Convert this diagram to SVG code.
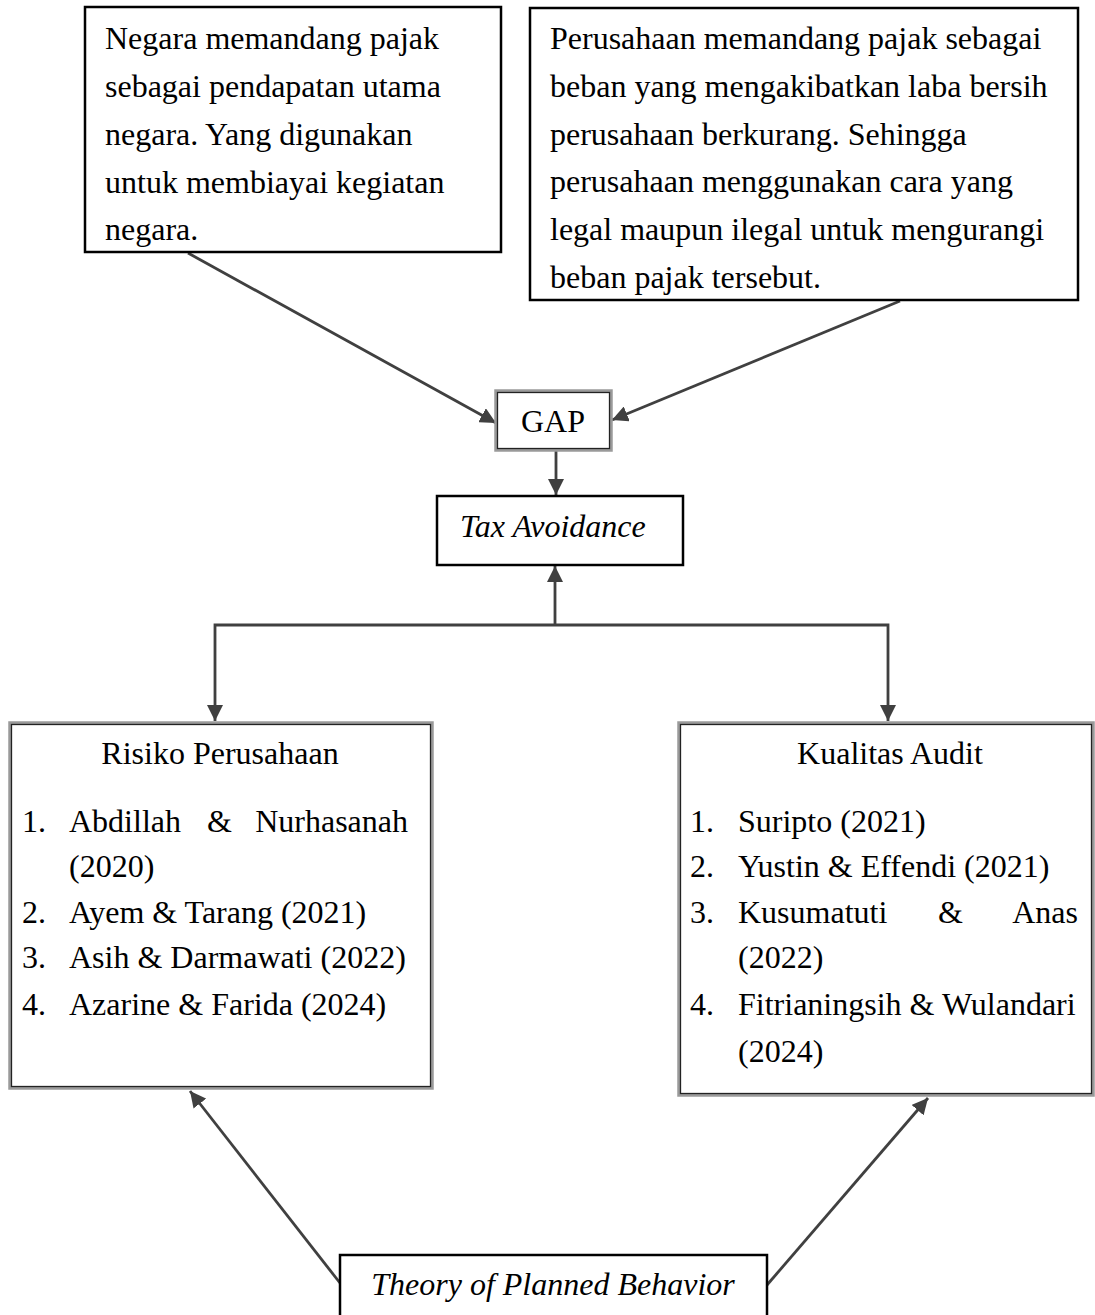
<svg xmlns="http://www.w3.org/2000/svg" width="1095" height="1315" viewBox="0 0 1095 1315">
<style>
text{font-family:"Liberation Serif","Times New Roman",serif;font-size:32px;fill:#000}
.it{font-style:italic}
.box{fill:#fff;stroke:#000;stroke-width:2.5}
.dbl-o{fill:#fff;stroke:#9a9a9a;stroke-width:3.5}
.dbl-i{fill:none;stroke:#222;stroke-width:1.3}
.conn{fill:none;stroke:#404040;stroke-width:2.8}
</style>
<defs>
<marker id="ah" viewBox="0 0 16 16" refX="16" refY="8" markerWidth="16" markerHeight="16" markerUnits="userSpaceOnUse" orient="auto">
<path d="M0,0 L16,8 L0,16 z" fill="#404040"/>
</marker>
</defs>
<rect width="1095" height="1315" fill="#fff"/>
<g id="connectors">
<line class="conn" x1="188" y1="253" x2="496" y2="423" marker-end="url(#ah)"/>
<line class="conn" x1="900" y1="301" x2="612" y2="420" marker-end="url(#ah)"/>
<line class="conn" x1="556" y1="451" x2="556" y2="495" marker-end="url(#ah)"/>
<line class="conn" x1="555" y1="625" x2="555" y2="566" marker-end="url(#ah)"/>
<polyline class="conn" points="555,625 215,625 215,721" marker-end="url(#ah)"/>
<polyline class="conn" points="555,625 888,625 888,721" marker-end="url(#ah)"/>
<line class="conn" x1="340" y1="1283" x2="190" y2="1091" marker-end="url(#ah)"/>
<line class="conn" x1="767" y1="1285" x2="928" y2="1098" marker-end="url(#ah)"/>
</g>
<g id="node-negara">
<rect class="box" x="85" y="7" width="416" height="245"/>
<text x="105" y="49">Negara memandang pajak</text>
<text x="105" y="97">sebagai pendapatan utama</text>
<text x="105" y="145">negara. Yang digunakan</text>
<text x="105" y="193">untuk membiayai kegiatan</text>
<text x="105" y="240">negara.</text>
</g>
<g id="node-perusahaan">
<rect class="box" x="530" y="8" width="548" height="292"/>
<text x="550" y="49">Perusahaan memandang pajak sebagai</text>
<text x="550" y="97">beban yang mengakibatkan laba bersih</text>
<text x="550" y="145">perusahaan berkurang. Sehingga</text>
<text x="550" y="192">perusahaan menggunakan cara yang</text>
<text x="550" y="240">legal maupun ilegal untuk mengurangi</text>
<text x="550" y="288">beban pajak tersebut.</text>
</g>
<g id="node-gap">
<rect class="dbl-o" x="496" y="391" width="115" height="59"/>
<rect class="dbl-i" x="497.5" y="392.5" width="112" height="56"/>
<text x="553" y="432" text-anchor="middle">GAP</text>
</g>
<g id="node-tax">
<rect class="box" x="437" y="496" width="246" height="69"/>
<text class="it" x="460" y="537">Tax Avoidance</text>
</g>
<g id="node-risiko">
<rect class="dbl-o" x="10" y="723" width="422" height="365"/>
<rect class="dbl-i" x="11.5" y="724.5" width="419" height="362"/>
<text x="220" y="764" text-anchor="middle">Risiko Perusahaan</text>
<text x="22" y="832">1.</text><text x="69" y="832">Abdillah</text><text x="207" y="832">&amp;</text><text x="408" y="832" text-anchor="end">Nurhasanah</text>
<text x="69" y="877">(2020)</text>
<text x="22" y="923">2.</text><text x="69" y="923">Ayem &amp; Tarang (2021)</text>
<text x="22" y="968">3.</text><text x="69" y="968">Asih &amp; Darmawati (2022)</text>
<text x="22" y="1015">4.</text><text x="69" y="1015">Azarine &amp; Farida (2024)</text>
</g>
<g id="node-kualitas">
<rect class="dbl-o" x="679" y="723" width="414" height="372"/>
<rect class="dbl-i" x="680.5" y="724.5" width="411" height="369"/>
<text x="890" y="764" text-anchor="middle">Kualitas Audit</text>
<text x="690" y="832">1.</text><text x="738" y="832">Suripto (2021)</text>
<text x="690" y="877">2.</text><text x="738" y="877">Yustin &amp; Effendi (2021)</text>
<text x="690" y="923">3.</text><text x="738" y="923">Kusumatuti</text><text x="938" y="923">&amp;</text><text x="1078" y="923" text-anchor="end">Anas</text>
<text x="738" y="968">(2022)</text>
<text x="690" y="1015">4.</text><text x="738" y="1015">Fitrianingsih &amp; Wulandari</text>
<text x="738" y="1062">(2024)</text>
</g>
<g id="node-tpb">
<rect class="box" x="340" y="1255" width="427" height="80"/>
<text class="it" x="553" y="1295" text-anchor="middle">Theory of Planned Behavior</text>
</g>
</svg>
